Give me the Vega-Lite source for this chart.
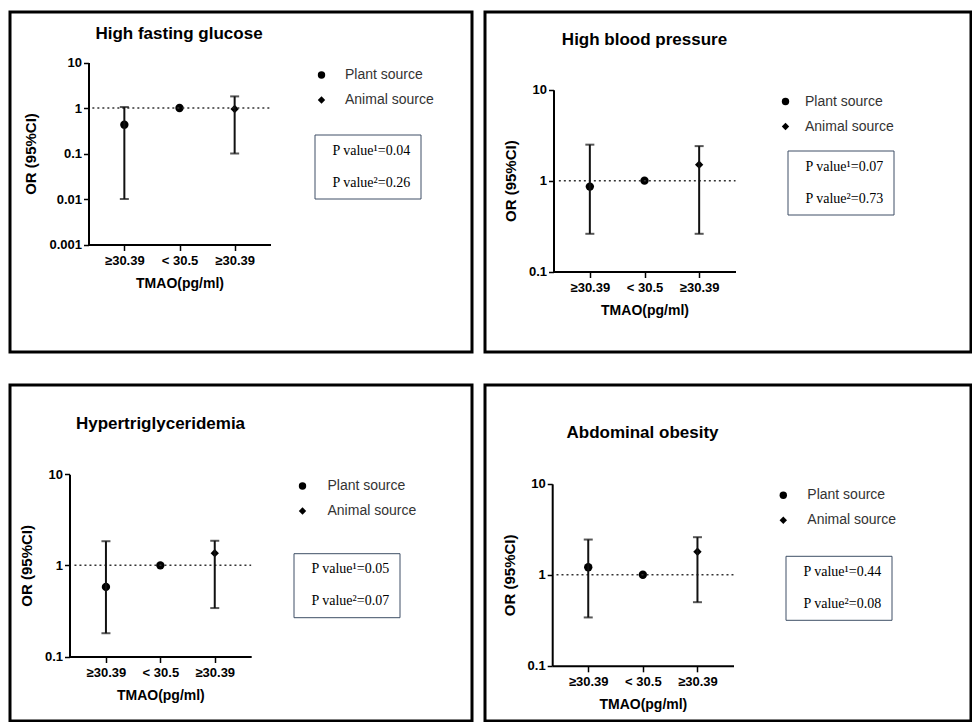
{
  "$schema": "https://vega.github.io/schema/vega-lite/v6.json",
  "padding": {"left": 8, "top": 10, "right": 0, "bottom": 0},
  "columns": 2,
  "spacing": {"row": 29, "column": 9},
  "resolve": {
    "scale": {"x": "independent", "y": "independent", "shape": "independent", "color": "independent"},
    "legend": {"shape": "independent", "color": "independent"}
  },
  "config": {
    "font": "Liberation Sans",
    "view": {"stroke": "#000", "strokeWidth": 3},
    "axis": {"domainColor": "#000", "domainWidth": 2, "tickColor": "#000", "tickWidth": 1.5, "grid": false, "labelFont": "Liberation Sans", "labelFontWeight": "bold", "labelColor": "#000", "titleFont": "Liberation Sans", "titleFontWeight": "bold", "titleColor": "#000"},
    "axisX": {"tickSize": 6, "labelFontSize": 13, "labelPadding": 4, "titleFontSize": 14, "titlePadding": 9, "labelAngle": 0},
    "axisY": {"tickSize": 5, "labelFontSize": 13, "labelPadding": 2, "titleFontSize": 15, "titlePadding": 10},
    "legend": {"labelFont": "Liberation Sans", "labelFontSize": 14, "labelColor": "#333"},
    "title": {"font": "Liberation Sans", "fontSize": 17, "fontWeight": "bold", "color": "#000", "frame": "group", "anchor": "middle"}
  },
  "concat": [
    {
      "width": 462, "height": 340,
      "title": {"text": "High fasting glucose", "dx": -62, "offset": -31},
      "data": {"values": [
        {"group": "Plant ≥30.39", "or": 0.43, "lo": 0.01, "hi": 1.05, "source": "Plant source"},
        {"group": "< 30.5", "or": 1, "source": "Reference"},
        {"group": "Animal ≥30.39", "or": 0.95, "lo": 0.1, "hi": 1.8, "source": "Animal source"}
      ]},
      "layer": [
        {
          "mark": {"type": "point", "filled": true, "opacity": 1, "size": 70, "color": "#000"},
          "encoding": {
            "x": {"field": "group", "type": "ordinal", "scale": {"type": "point", "domain": ["Plant ≥30.39", "< 30.5", "Animal ≥30.39"], "range": [78.5, 260.5], "padding": 0.65}, "axis": {"offset": -107.5, "title": "TMAO(pg/ml)", "labelExpr": "replace(datum.label, /^(Plant|Animal) /, '')"}},
            "y": {"field": "or", "type": "quantitative", "scale": {"type": "log", "domain": [0.001, 10], "range": [232.5, 50.5], "nice": false}, "axis": {"offset": -78.5, "title": "OR (95%CI)", "values": [0.001, 0.01, 0.1, 1, 10], "format": "~g"}},
            "shape": {"field": "source", "type": "nominal", "scale": {"domain": ["Plant source", "Animal source", "Reference"], "range": ["circle", "diamond", "circle"]}, "legend": {"values": ["Plant source", "Animal source"], "orient": "none", "legendX": 304.5, "legendY": 56, "title": null, "symbolSize": 55, "symbolFillColor": "#000", "symbolStrokeWidth": 0, "labelOffset": 16.5, "rowPadding": 11}}
          }
        },
        {
          "data": {"values": [{"ref": 1}]},
          "mark": {"type": "rule", "strokeDash": [2, 3], "strokeWidth": 1.5, "color": "#333", "xOffset": -32, "x2Offset": 36},
          "encoding": {"x": {"datum": "Plant ≥30.39", "type": "ordinal"}, "x2": {"datum": "Animal ≥30.39"}, "y": {"field": "ref", "type": "quantitative"}}
        },
        {
          "transform": [{"filter": "isValid(datum.lo)"}],
          "mark": {"type": "rule", "strokeWidth": 2, "color": "#111"},
          "encoding": {"x": {"field": "group", "type": "ordinal"}, "y": {"field": "lo", "type": "quantitative"}, "y2": {"field": "hi"}}
        },
        {
          "transform": [{"filter": "isValid(datum.lo)"}],
          "mark": {"type": "tick", "orient": "horizontal", "size": 9, "thickness": 2, "color": "#111"},
          "encoding": {"x": {"field": "group", "type": "ordinal"}, "y": {"field": "lo", "type": "quantitative"}}
        },
        {
          "transform": [{"filter": "isValid(datum.hi)"}],
          "mark": {"type": "tick", "orient": "horizontal", "size": 9, "thickness": 2, "color": "#111"},
          "encoding": {"x": {"field": "group", "type": "ordinal"}, "y": {"field": "hi", "type": "quantitative"}}
        },
        {
          "data": {"values": [{"p": "P value¹=0.04"}, {"p": "P value²=0.26"}]},
          "mark": {"type": "point", "opacity": 0},
          "encoding": {
            "x": {"datum": "< 30.5", "type": "ordinal"}, "y": {"datum": 1, "type": "quantitative"},
            "color": {"field": "p", "type": "nominal", "scale": {"domain": ["P value¹=0.04", "P value²=0.26"], "range": ["#000", "#000"]}, "legend": {"orient": "none", "legendX": 304.5, "legendY": 122.5, "title": null, "strokeColor": "#3e4f66", "padding": 9, "symbolSize": 0, "symbolOpacity": 0, "labelOffset": -5, "rowPadding": 18, "labelFont": "Liberation Serif", "labelFontSize": 14, "labelColor": "#000", "encode": {"legend": {"update": {"strokeWidth": {"value": 1.6}}}}}}
          }
        }
      ]
    },
    {
      "width": 486, "height": 340,
      "title": {"text": "High blood pressure", "dx": -83.5, "offset": -37},
      "data": {"values": [
        {"group": "Plant ≥30.39", "or": 0.86, "lo": 0.26, "hi": 2.49, "source": "Plant source"},
        {"group": "< 30.5", "or": 1, "source": "Reference"},
        {"group": "Animal ≥30.39", "or": 1.5, "lo": 0.26, "hi": 2.4, "source": "Animal source"}
      ]},
      "layer": [
        {
          "mark": {"type": "point", "filled": true, "opacity": 1, "size": 70, "color": "#000"},
          "encoding": {
            "x": {"field": "group", "type": "ordinal", "scale": {"type": "point", "domain": ["Plant ≥30.39", "< 30.5", "Animal ≥30.39"], "range": [68.5, 250.5], "padding": 0.665}, "axis": {"offset": -80.5, "title": "TMAO(pg/ml)", "labelExpr": "replace(datum.label, /^(Plant|Animal) /, '')"}},
            "y": {"field": "or", "type": "quantitative", "scale": {"type": "log", "domain": [0.1, 10], "range": [259.5, 77.8], "nice": false}, "axis": {"offset": -68.5, "title": "OR (95%CI)", "values": [0.1, 1, 10], "format": "~g"}},
            "shape": {"field": "source", "type": "nominal", "scale": {"domain": ["Plant source", "Animal source", "Reference"], "range": ["circle", "diamond", "circle"]}, "legend": {"values": ["Plant source", "Animal source"], "orient": "none", "legendX": 293.5, "legendY": 82.5, "title": null, "symbolSize": 55, "symbolFillColor": "#000", "symbolStrokeWidth": 0, "labelOffset": 12.5, "rowPadding": 11}}
          }
        },
        {
          "data": {"values": [{"ref": 1}]},
          "mark": {"type": "rule", "strokeDash": [2, 3], "strokeWidth": 1.5, "color": "#333", "xOffset": -31, "x2Offset": 36.4},
          "encoding": {"x": {"datum": "Plant ≥30.39", "type": "ordinal"}, "x2": {"datum": "Animal ≥30.39"}, "y": {"field": "ref", "type": "quantitative"}}
        },
        {
          "transform": [{"filter": "isValid(datum.lo)"}],
          "mark": {"type": "rule", "strokeWidth": 2, "color": "#111"},
          "encoding": {"x": {"field": "group", "type": "ordinal"}, "y": {"field": "lo", "type": "quantitative"}, "y2": {"field": "hi"}}
        },
        {
          "transform": [{"filter": "isValid(datum.lo)"}],
          "mark": {"type": "tick", "orient": "horizontal", "size": 9, "thickness": 2, "color": "#111"},
          "encoding": {"x": {"field": "group", "type": "ordinal"}, "y": {"field": "lo", "type": "quantitative"}}
        },
        {
          "transform": [{"filter": "isValid(datum.hi)"}],
          "mark": {"type": "tick", "orient": "horizontal", "size": 9, "thickness": 2, "color": "#111"},
          "encoding": {"x": {"field": "group", "type": "ordinal"}, "y": {"field": "hi", "type": "quantitative"}}
        },
        {
          "data": {"values": [{"p": "P value¹=0.07"}, {"p": "P value²=0.73"}]},
          "mark": {"type": "point", "opacity": 0},
          "encoding": {
            "x": {"datum": "< 30.5", "type": "ordinal"}, "y": {"datum": 1, "type": "quantitative"},
            "color": {"field": "p", "type": "nominal", "scale": {"domain": ["P value¹=0.07", "P value²=0.73"], "range": ["#000", "#000"]}, "legend": {"orient": "none", "legendX": 302.5, "legendY": 138.5, "title": null, "strokeColor": "#3e4f66", "padding": 9, "symbolSize": 0, "symbolOpacity": 0, "labelOffset": -5, "rowPadding": 18, "labelFont": "Liberation Serif", "labelFontSize": 14, "labelColor": "#000", "encode": {"legend": {"update": {"strokeWidth": {"value": 1.6}}}}}}
          }
        }
      ]
    },
    {
      "width": 462, "height": 336,
      "title": {"text": "Hypertriglyceridemia", "dx": -80.5, "offset": -47.5},
      "data": {"values": [
        {"group": "Plant ≥30.39", "or": 0.58, "lo": 0.18, "hi": 1.84, "source": "Plant source"},
        {"group": "< 30.5", "or": 1, "source": "Reference"},
        {"group": "Animal ≥30.39", "or": 1.36, "lo": 0.34, "hi": 1.86, "source": "Animal source"}
      ]},
      "layer": [
        {
          "mark": {"type": "point", "filled": true, "opacity": 1, "size": 70, "color": "#000"},
          "encoding": {
            "x": {"field": "group", "type": "ordinal", "scale": {"type": "point", "domain": ["Plant ≥30.39", "< 30.5", "Animal ≥30.39"], "range": [59.5, 241.2], "padding": 0.67}, "axis": {"offset": -64.5, "title": "TMAO(pg/ml)", "labelExpr": "replace(datum.label, /^(Plant|Animal) /, '')"}},
            "y": {"field": "or", "type": "quantitative", "scale": {"type": "log", "domain": [0.1, 10], "range": [271.5, 89.2], "nice": false}, "axis": {"offset": -59.5, "title": "OR (95%CI)", "values": [0.1, 1, 10], "format": "~g"}},
            "shape": {"field": "source", "type": "nominal", "scale": {"domain": ["Plant source", "Animal source", "Reference"], "range": ["circle", "diamond", "circle"]}, "legend": {"values": ["Plant source", "Animal source"], "orient": "none", "legendX": 285.5, "legendY": 94, "title": null, "symbolSize": 55, "symbolFillColor": "#000", "symbolStrokeWidth": 0, "labelOffset": 18, "rowPadding": 11}}
          }
        },
        {
          "data": {"values": [{"ref": 1}]},
          "mark": {"type": "rule", "strokeDash": [2, 3], "strokeWidth": 1.5, "color": "#333", "xOffset": -31.5, "x2Offset": 36.4},
          "encoding": {"x": {"datum": "Plant ≥30.39", "type": "ordinal"}, "x2": {"datum": "Animal ≥30.39"}, "y": {"field": "ref", "type": "quantitative"}}
        },
        {
          "transform": [{"filter": "isValid(datum.lo)"}],
          "mark": {"type": "rule", "strokeWidth": 2, "color": "#111"},
          "encoding": {"x": {"field": "group", "type": "ordinal"}, "y": {"field": "lo", "type": "quantitative"}, "y2": {"field": "hi"}}
        },
        {
          "transform": [{"filter": "isValid(datum.lo)"}],
          "mark": {"type": "tick", "orient": "horizontal", "size": 9, "thickness": 2, "color": "#111"},
          "encoding": {"x": {"field": "group", "type": "ordinal"}, "y": {"field": "lo", "type": "quantitative"}}
        },
        {
          "transform": [{"filter": "isValid(datum.hi)"}],
          "mark": {"type": "tick", "orient": "horizontal", "size": 9, "thickness": 2, "color": "#111"},
          "encoding": {"x": {"field": "group", "type": "ordinal"}, "y": {"field": "hi", "type": "quantitative"}}
        },
        {
          "data": {"values": [{"p": "P value¹=0.05"}, {"p": "P value²=0.07"}]},
          "mark": {"type": "point", "opacity": 0},
          "encoding": {
            "x": {"datum": "< 30.5", "type": "ordinal"}, "y": {"datum": 1, "type": "quantitative"},
            "color": {"field": "p", "type": "nominal", "scale": {"domain": ["P value¹=0.05", "P value²=0.07"], "range": ["#000", "#000"]}, "legend": {"orient": "none", "legendX": 283.5, "legendY": 168.2, "title": null, "strokeColor": "#3e4f66", "padding": 9, "symbolSize": 0, "symbolOpacity": 0, "labelOffset": -5, "rowPadding": 18, "labelFont": "Liberation Serif", "labelFontSize": 14, "labelColor": "#000", "encode": {"legend": {"update": {"strokeWidth": {"value": 1.6}}}}}}
          }
        }
      ]
    },
    {
      "width": 486, "height": 336,
      "title": {"text": "Abdominal obesity", "dx": -85.5, "offset": -56.5},
      "data": {"values": [
        {"group": "Plant ≥30.39", "or": 1.21, "lo": 0.34, "hi": 2.44, "source": "Plant source"},
        {"group": "< 30.5", "or": 1, "source": "Reference"},
        {"group": "Animal ≥30.39", "or": 1.79, "lo": 0.5, "hi": 2.59, "source": "Animal source"}
      ]},
      "layer": [
        {
          "mark": {"type": "point", "filled": true, "opacity": 1, "size": 70, "color": "#000"},
          "encoding": {
            "x": {"field": "group", "type": "ordinal", "scale": {"type": "point", "domain": ["Plant ≥30.39", "< 30.5", "Animal ≥30.39"], "range": [67.2, 248.5], "padding": 0.66}, "axis": {"offset": -55.2, "title": "TMAO(pg/ml)", "labelExpr": "replace(datum.label, /^(Plant|Animal) /, '')"}},
            "y": {"field": "or", "type": "quantitative", "scale": {"type": "log", "domain": [0.1, 10], "range": [280.8, 98.8], "nice": false}, "axis": {"offset": -67.2, "title": "OR (95%CI)", "values": [0.1, 1, 10], "format": "~g"}},
            "shape": {"field": "source", "type": "nominal", "scale": {"domain": ["Plant source", "Animal source", "Reference"], "range": ["circle", "diamond", "circle"]}, "legend": {"values": ["Plant source", "Animal source"], "orient": "none", "legendX": 291.3, "legendY": 103.3, "title": null, "symbolSize": 55, "symbolFillColor": "#000", "symbolStrokeWidth": 0, "labelOffset": 17, "rowPadding": 11}}
          }
        },
        {
          "data": {"values": [{"ref": 1}]},
          "mark": {"type": "rule", "strokeDash": [2, 3], "strokeWidth": 1.5, "color": "#333", "xOffset": -31.75, "x2Offset": 36},
          "encoding": {"x": {"datum": "Plant ≥30.39", "type": "ordinal"}, "x2": {"datum": "Animal ≥30.39"}, "y": {"field": "ref", "type": "quantitative"}}
        },
        {
          "transform": [{"filter": "isValid(datum.lo)"}],
          "mark": {"type": "rule", "strokeWidth": 2, "color": "#111"},
          "encoding": {"x": {"field": "group", "type": "ordinal"}, "y": {"field": "lo", "type": "quantitative"}, "y2": {"field": "hi"}}
        },
        {
          "transform": [{"filter": "isValid(datum.lo)"}],
          "mark": {"type": "tick", "orient": "horizontal", "size": 9, "thickness": 2, "color": "#111"},
          "encoding": {"x": {"field": "group", "type": "ordinal"}, "y": {"field": "lo", "type": "quantitative"}}
        },
        {
          "transform": [{"filter": "isValid(datum.hi)"}],
          "mark": {"type": "tick", "orient": "horizontal", "size": 9, "thickness": 2, "color": "#111"},
          "encoding": {"x": {"field": "group", "type": "ordinal"}, "y": {"field": "hi", "type": "quantitative"}}
        },
        {
          "data": {"values": [{"p": "P value¹=0.44"}, {"p": "P value²=0.08"}]},
          "mark": {"type": "point", "opacity": 0},
          "encoding": {
            "x": {"datum": "< 30.5", "type": "ordinal"}, "y": {"datum": 1, "type": "quantitative"},
            "color": {"field": "p", "type": "nominal", "scale": {"domain": ["P value¹=0.44", "P value²=0.08"], "range": ["#000", "#000"]}, "legend": {"orient": "none", "legendX": 300.5, "legendY": 170.8, "title": null, "strokeColor": "#3e4f66", "padding": 9, "symbolSize": 0, "symbolOpacity": 0, "labelOffset": -5, "rowPadding": 18, "labelFont": "Liberation Serif", "labelFontSize": 14, "labelColor": "#000", "encode": {"legend": {"update": {"strokeWidth": {"value": 1.6}}}}}}
          }
        }
      ]
    }
  ]
}
